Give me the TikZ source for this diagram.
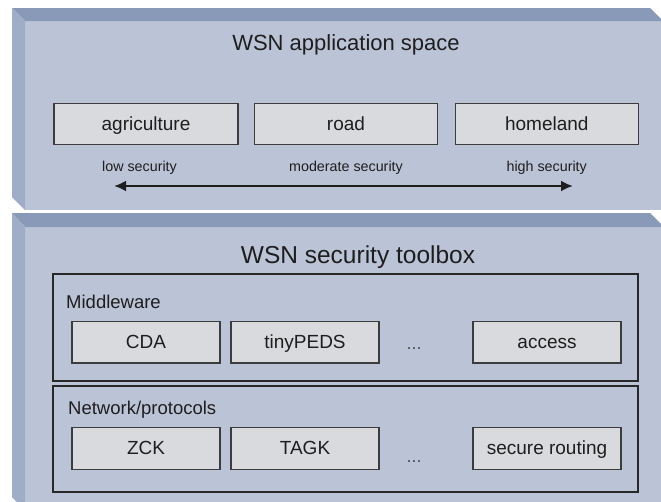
\documentclass[tikz,border=0pt]{standalone}
\usepackage{fontspec}
\setmainfont{Liberation Sans}
\usetikzlibrary{arrows.meta}
\definecolor{face}{RGB}{187,195,215}
\definecolor{topbev}{RGB}{137,154,184}
\definecolor{leftbev}{RGB}{160,173,201}
\definecolor{boxfill}{RGB}{217,218,221}
\definecolor{boxline}{RGB}{60,60,60}
\definecolor{frameline}{RGB}{40,40,40}
\definecolor{txt}{RGB}{30,30,30}
\definecolor{dotc}{RGB}{80,80,80}
\begin{document}
\begin{tikzpicture}[x=1pt,y=-1pt,
  itembox/.style={draw=boxline, line width=1.2pt, fill=boxfill, minimum height=41.5pt,
    inner sep=0pt, text=txt, font=\fontsize{19}{21}\selectfont,
    text height=14pt, text depth=1.4pt},
  framebox/.style={draw=frameline, line width=1.8pt, minimum width=585pt, inner sep=0pt},
  titletext/.style={text=txt, inner sep=0pt, anchor=base},
  smalltext/.style={font=\fontsize{14.3}{16}\selectfont, text=txt, inner sep=0pt, anchor=base},
  labeltext/.style={font=\fontsize{18.5}{20}\selectfont, text=txt, inner sep=0pt, anchor=base west},
  dotstext/.style={font=\fontsize{18}{20}\selectfont, text=dotc, inner sep=0pt, anchor=base},
  arrowline/.style={line width=2.5pt, draw=txt, {Latex[length=12pt,width=11pt]}-{Latex[length=12pt,width=11pt]}}
]
\useasboundingbox (0,0) rectangle (661,501);
\clip (0,0) rectangle (661,501);

% ---- upper panel (application space)
\fill[face] (25,21) rectangle (700,210);
\fill[topbev] (12,8) -- (650,8) -- (663,21) -- (25,21) -- cycle;
\fill[leftbev] (12,8) -- (25,21) -- (25,210) -- (12,197) -- cycle;

% ---- lower panel (security toolbox)
\fill[face] (25,227) rectangle (700,520);
\fill[topbev] (12,213) -- (650,213) -- (664,227) -- (25,227) -- cycle;
\fill[leftbev] (12,213) -- (25,227) -- (25,510) -- (12,497) -- cycle;

% ---- upper content
\node[titletext, font=\fontsize{22}{24}\selectfont] (apptitle) at (346,50.7) {WSN application space};
\node[itembox, minimum width=184pt] (agri) at (146,124) {agriculture};
\node[itembox, minimum width=183.4pt] (road) at (346,124) {road};
\node[itembox, minimum width=183pt] (home) at (546.8,124) {homeland};
\node[smalltext] (low) at (139.5,171.5) {low security};
\node[smalltext] (mod) at (346,171.5) {moderate security};
\node[smalltext] (high) at (546.7,171.5) {high security};
\coordinate (arrL) at (114,186);
\coordinate (arrR) at (573,186);
\draw[arrowline] (arrL) -- (arrR);

% ---- lower content
\node[titletext, font=\fontsize{24.5}{27}\selectfont] (sectitle) at (358,263.3) {WSN security toolbox};
\node[framebox, minimum height=106.7pt] (mw) at (345.8,327.35) {};
\node[framebox, minimum height=106.3pt] (net) at (345.8,439.15) {};
\node[labeltext] (mwlabel) at (66,308.3) {Middleware};
\node[labeltext] (netlabel) at (68,414.3) {Network/protocols};

\node[itembox, minimum width=148pt, minimum height=41.3pt] (cda) at (146,342.35) {CDA};
\node[itembox, minimum width=148pt, minimum height=41.3pt] (peds) at (305,342.35) {tinyPEDS};
\node[dotstext] (dots1) at (414,349.5) {...};
\node[itembox, minimum width=148pt, minimum height=41.3pt] (access) at (547,342.35) {access};

\node[itembox, minimum width=148pt, minimum height=41.8pt] (zck) at (146,448.4) {ZCK};
\node[itembox, minimum width=148pt, minimum height=41.8pt] (tagk) at (305,448.4) {TAGK};
\node[dotstext] (dots2) at (414,462) {...};
\node[itembox, minimum width=148pt, minimum height=41.8pt] (secr) at (547,448.4) {secure routing};
\end{tikzpicture}
\end{document}
